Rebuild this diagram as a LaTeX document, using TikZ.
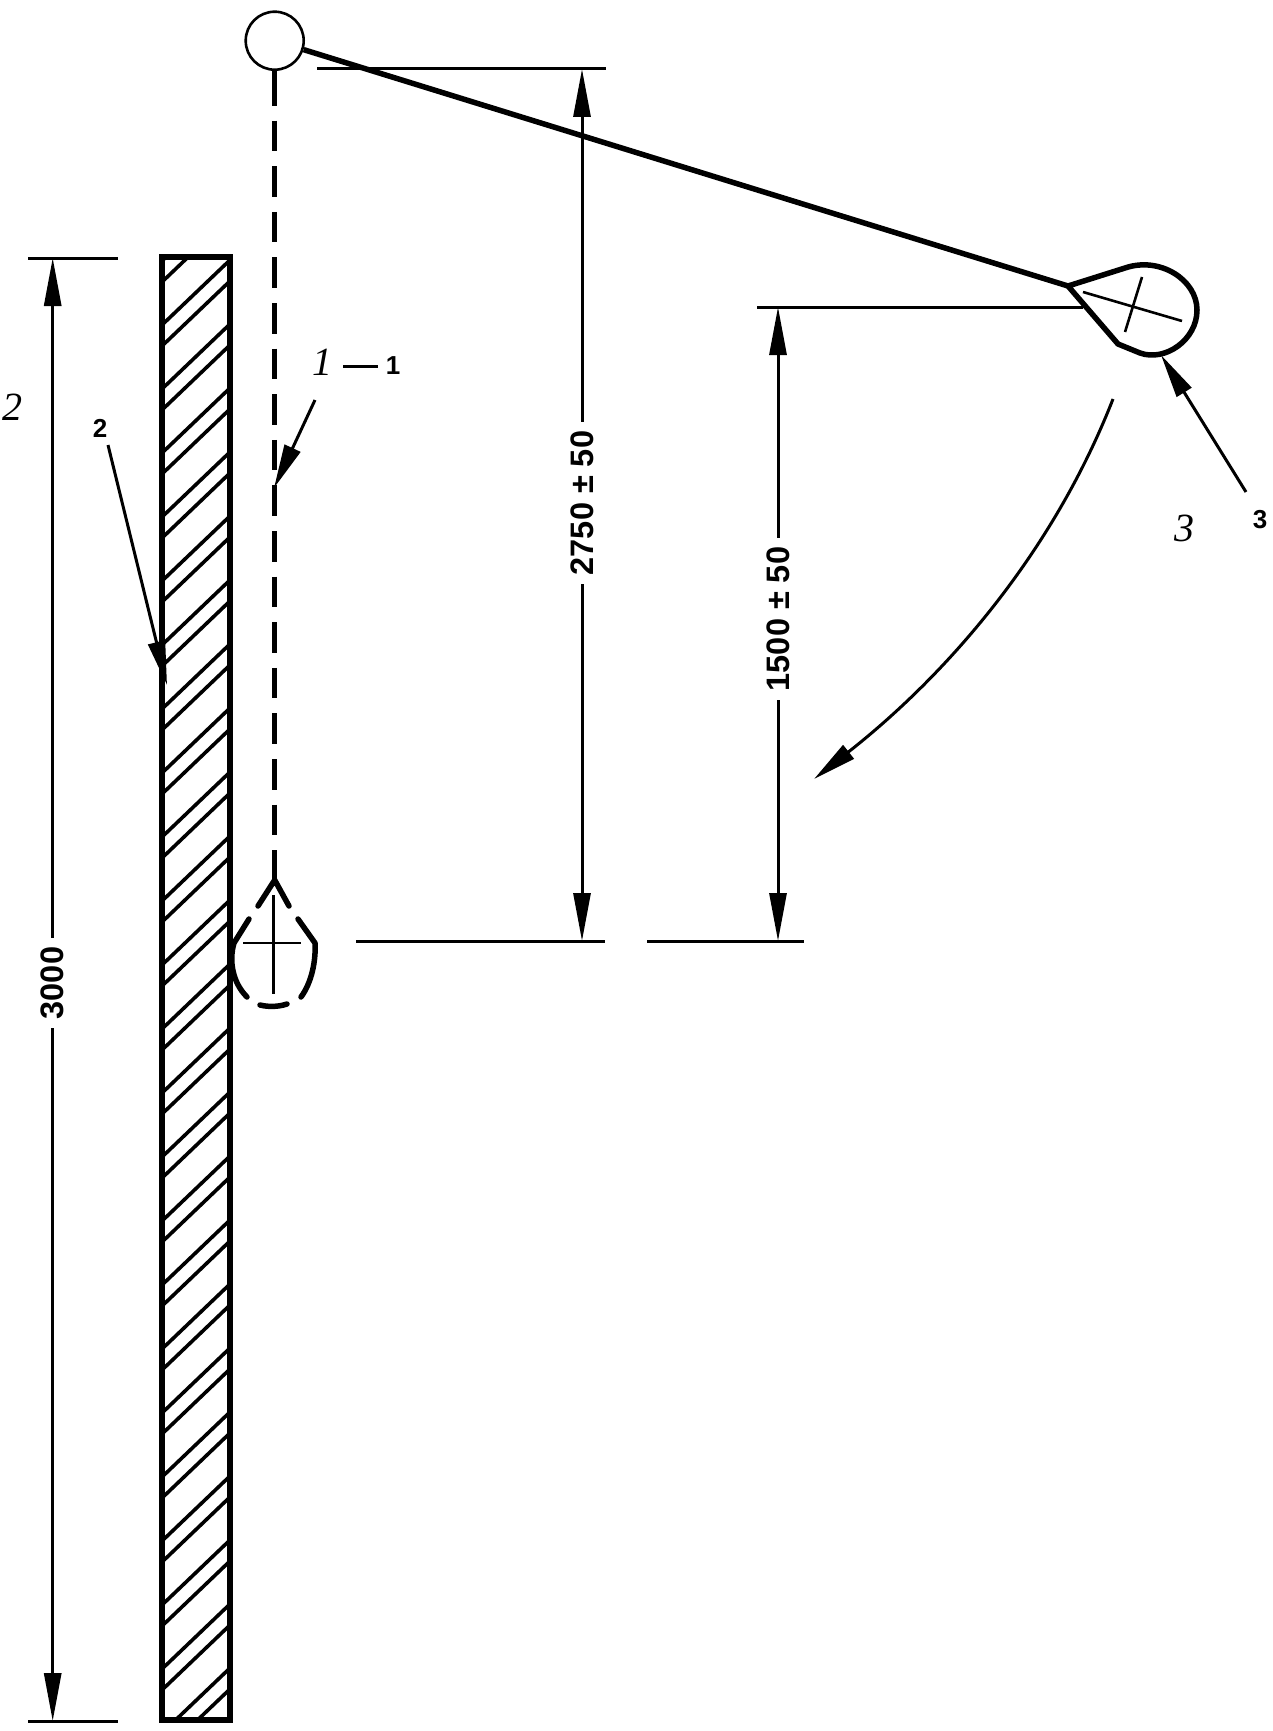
\documentclass[tikz,border=0pt]{standalone}
\usepackage{fontspec}
\setmainfont{Liberation Serif}
\setsansfont{Liberation Sans}
\usetikzlibrary{arrows.meta}
\tikzset{
  px/.style={x=1pt,y=-1pt},
  thinln/.style={line width=3pt,black},
  heavy/.style={line width=5.5pt,black,line cap=round,line join=round},
  crossln/.style={line width=2.6pt,black},
  hatchln/.style={line width=3.6pt,black},
  dimarrow/.style={thinln,-{Triangle[length=48pt,width=17pt]}},
  leader/.style={thinln,-{Triangle[length=44pt,width=17pt]}},
  dimtext/.style={font=\sffamily\bfseries\fontsize{32.5}{32.5}\selectfont,rotate=90,inner xsep=9pt,inner ysep=0pt},
  boldnum/.style={font=\sffamily\bfseries\fontsize{26}{26}\selectfont,inner sep=0pt},
  itnum/.style={font=\itshape\fontsize{40}{40}\selectfont,inner sep=0pt}
}
\begin{document}
\begin{tikzpicture}[px]
\useasboundingbox (0,0) rectangle (1272,1731);
% wall
\begin{scope}
  \clip (162,257) rectangle (230,1720);
  \foreach \k in {-1,...,22}{
    \draw[hatchln] (162,{325+64*\k}) -- (230,{325+64*\k-65});
    \draw[hatchln] (162,{346+64*\k}) -- (230,{346+64*\k-65});
  }
\end{scope}
\draw[line width=5.5pt,black,line join=miter] (162,257) rectangle (230,1720);
% pendulum
\node[circle,draw=black,line width=2.6pt,minimum size=58pt,inner sep=0pt] (hinge) at (274.7,40.7) {};
\coordinate (apex) at (1068,286);
\coordinate (lowapex) at (274.7,880);
\draw[heavy,line cap=butt] (hinge) -- (apex);
\draw[line width=5pt,black,dash pattern=on 30.6pt off 15pt,dash phase=41.6pt] (hinge.south) -- (lowapex);
\draw[line width=5pt,black] (hinge.south) -- ++(0,4);
% raised ball
\draw[heavy] (apex) -- (1125,268) .. controls (1160,256) and (1197,280) .. (1197,310)
  .. controls (1197,340) and (1165,362) .. (1140,353) -- (1118,344) -- cycle;
\draw[crossln] (1083,292) -- (1182,321);
\draw[crossln] (1142,277) -- (1125,332);
% ball at wall (dashed outline)
\draw[heavy] (258,906) -- (lowapex) -- (289,906);
\draw[heavy] (298,919) -- (315,943) .. controls (316,960) and (312,982) .. (301,997);
\draw[heavy] (260,1005) .. controls (268,1007) and (278,1007) .. (287,1004);
\draw[heavy] (249,919) -- (234,943) .. controls (229,960) and (232,982) .. (247,997);
\draw[crossln] (243,943) -- (301,943);
\draw[crossln] (273.5,895) -- (273.5,994);
% extension lines
\coordinate (e1a) at (28,258);  \coordinate (e1b) at (118,258);
\coordinate (e2a) at (28,1721); \coordinate (e2b) at (118,1721);
\coordinate (e3a) at (317,69);  \coordinate (e3b) at (606,69);
\coordinate (e4a) at (356,941); \coordinate (e4b) at (605,941);
\coordinate (e5a) at (647,941); \coordinate (e5b) at (804,941);
\coordinate (e6a) at (757,307); \coordinate (e6b) at (1083,307);
\foreach \a/\b in {e1a/e1b,e2a/e2b,e3a/e3b,e4a/e4b,e5a/e5b,e6a/e6b}
  \draw[thinln] (\a) -- (\b);
% dimensions
\node[dimtext] (d3000) at (52.7,983) {3000};
\node[dimtext] (d2750) at (582,503) {2750 ± 50};
\node[dimtext] (d1500) at (778,619) {1500 ± 50};
\coordinate (d1t) at (52.7,258);  \coordinate (d1b) at (52.7,1721);
\coordinate (d2t) at (582,69);    \coordinate (d2b) at (582,941);
\coordinate (d3t) at (778,307);   \coordinate (d3b) at (778,941);
\draw[dimarrow] (d3000.east) -- (d1t);
\draw[dimarrow] (d3000.west) -- (d1b);
\draw[dimarrow] (d2750.east) -- (d2t);
\draw[dimarrow] (d2750.west) -- (d2b);
\draw[dimarrow] (d1500.east) -- (d3t);
\draw[dimarrow] (d1500.west) -- (d3b);
% swing arrow
\coordinate (s0) at (1113,399);
\coordinate (s1) at (814,779);
\draw[leader] (s0) .. controls (1050,560) and (940,680) .. (s1);
% leaders
\coordinate (l1s) at (315,400); \coordinate (l1e) at (274,488);
\coordinate (l2s) at (108,445); \coordinate (l2e) at (167,685);
\coordinate (l3s) at (1246,492); \coordinate (l3e) at (1161,355);
\draw[leader] (l1s) -- (l1e);
\draw[leader] (l2s) -- (l2e);
\draw[leader] (l3s) -- (l3e);
% labels
\node[itnum] (i1) at (322,362) {1};
\draw[line width=3pt] (343,366) -- (378,366);
\node[boldnum] (b1) at (393,366) {1};
\node[itnum] (i2) at (12,407) {2};
\node[boldnum] (b2) at (100,428) {2};
\node[itnum] (i3) at (1184,528) {3};
\node[boldnum] (b3) at (1260,520) {3};
\end{tikzpicture}
\end{document}
